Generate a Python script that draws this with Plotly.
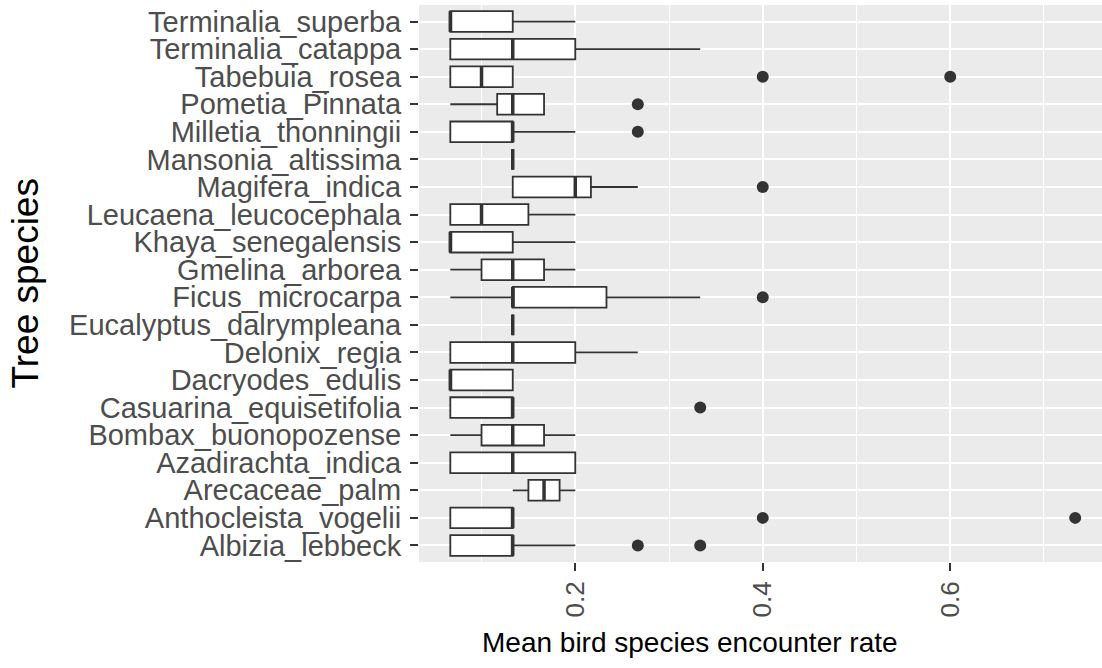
import plotly.graph_objects as go

species = ["Albizia_lebbeck", "Anthocleista_vogelii", "Arecaceae_palm", "Azadirachta_indica",
           "Bombax_buonopozense", "Casuarina_equisetifolia", "Dacryodes_edulis", "Delonix_regia",
           "Eucalyptus_dalrympleana", "Ficus_microcarpa", "Gmelina_arborea", "Khaya_senegalensis",
           "Leucaena_leucocephala", "Magifera_indica", "Mansonia_altissima", "Milletia_thonningii",
           "Pometia_Pinnata", "Tabebuia_rosea", "Terminalia_catappa", "Terminalia_superba"]

lower_whisker = [0.0667, 0.0667, 0.1333, 0.0667, 0.0667, 0.0667, 0.0667, 0.0667, 0.1333, 0.0667,
                 0.0667, 0.0667, 0.0667, 0.1333, 0.1333, 0.0667, 0.0667, 0.0667, 0.0667, 0.0667]
q1 = [0.0667, 0.0667, 0.15, 0.0667, 0.1, 0.0667, 0.0667, 0.0667, 0.1333, 0.1333,
      0.1, 0.0667, 0.0667, 0.1333, 0.1333, 0.0667, 0.1167, 0.0667, 0.0667, 0.0667]
median = [0.1333, 0.1333, 0.1667, 0.1333, 0.1333, 0.1333, 0.0667, 0.1333, 0.1333, 0.1333,
          0.1333, 0.0667, 0.1, 0.2, 0.1333, 0.1333, 0.1333, 0.1, 0.1333, 0.0667]
q3 = [0.1333, 0.1333, 0.1833, 0.2, 0.1667, 0.1333, 0.1333, 0.2, 0.1333, 0.2333,
      0.1667, 0.1333, 0.15, 0.2167, 0.1333, 0.1333, 0.1667, 0.1333, 0.2, 0.1333]
upper_whisker = [0.2, 0.1333, 0.2, 0.2, 0.2, 0.1333, 0.1333, 0.2667, 0.1333, 0.3333,
                 0.2, 0.2, 0.2, 0.2667, 0.1333, 0.2, 0.1667, 0.1333, 0.3333, 0.2]

outlier_species = ["Albizia_lebbeck", "Albizia_lebbeck", "Anthocleista_vogelii", "Anthocleista_vogelii",
                   "Casuarina_equisetifolia", "Ficus_microcarpa", "Magifera_indica",
                   "Milletia_thonningii", "Pometia_Pinnata", "Tabebuia_rosea", "Tabebuia_rosea"]
outlier_values = [0.2667, 0.3333, 0.4, 0.7333, 0.3333, 0.4, 0.4, 0.2667, 0.2667, 0.4, 0.6]

x_ticks = [0.2, 0.4, 0.6]
x_tick_labels = ["0.2", "0.4", "0.6"]
x_minor = [0.1, 0.3, 0.5, 0.7]

pos = list(range(len(species)))
BOXW = 0.75
LINE = "#333333"

fig = go.Figure()
fig.add_trace(go.Box(
    y=pos, q1=q1, median=median, q3=q3,
    lowerfence=lower_whisker, upperfence=upper_whisker,
    orientation="h", width=BOXW, whiskerwidth=0,
    fillcolor="white", line=dict(color=LINE, width=1.8),
    boxpoints=False, showlegend=False, hoverinfo="skip",
))

out_pos = [species.index(s) for s in outlier_species]
fig.add_trace(go.Scatter(
    x=outlier_values, y=out_pos, mode="markers",
    marker=dict(color=LINE, size=12), showlegend=False, hoverinfo="skip",
))

# thicker median lines (ggplot fatten)
for i, m in enumerate(median):
    fig.add_shape(type="line", xref="x", yref="y", x0=m, x1=m,
                  y0=i - BOXW / 2, y1=i + BOXW / 2,
                  line=dict(color=LINE, width=3.5), layer="above")

FONT = "Liberation Sans, Arial, sans-serif"

fig.update_layout(
    width=1102, height=668,
    margin=dict(l=419, r=0, t=5, b=106),
    paper_bgcolor="white", plot_bgcolor="#EBEBEB",
    font=dict(family=FONT),
    xaxis=dict(
        range=[0.0333, 0.7619], tickvals=x_ticks, ticktext=x_tick_labels,
        tickangle=-90, tickfont=dict(size=26, color="#4D4D4D", family=FONT),
        ticks="outside", ticklen=8, tickwidth=1.5, tickcolor=LINE,
        showgrid=True, gridcolor="white", gridwidth=2,
        minor=dict(tickvals=x_minor, showgrid=True, gridcolor="white", gridwidth=1, ticks=""),
        zeroline=False, showline=False, fixedrange=True,
    ),
    yaxis=dict(
        range=[-0.6, len(species) - 0.4], tickvals=pos, ticktext=species,
        tickfont=dict(size=29, color="#4D4D4D", family=FONT),
        ticks="outside", ticklen=8, tickwidth=1.5, tickcolor=LINE,
        ticklabelstandoff=3,
        showgrid=True, gridcolor="white", gridwidth=2,
        zeroline=False, showline=False, fixedrange=True,
    ),
    annotations=[
        dict(text="Mean bird species encounter rate", xref="paper", yref="paper",
             x=(690 - 419) / 683, y=(562 - 642) / 557, xanchor="center", yanchor="middle",
             showarrow=False, font=dict(size=28, color="black", family=FONT)),
        dict(text="Tree species", xref="paper", yref="paper",
             x=(25 - 419) / 683, y=0.5, xanchor="center", yanchor="middle", textangle=-90,
             showarrow=False, font=dict(size=37, color="black", family=FONT)),
    ],
)

fig.write_html("out.html", config={"displayModeBar": False},
               post_script="document.body.style.margin='0';document.body.style.padding='0';")
